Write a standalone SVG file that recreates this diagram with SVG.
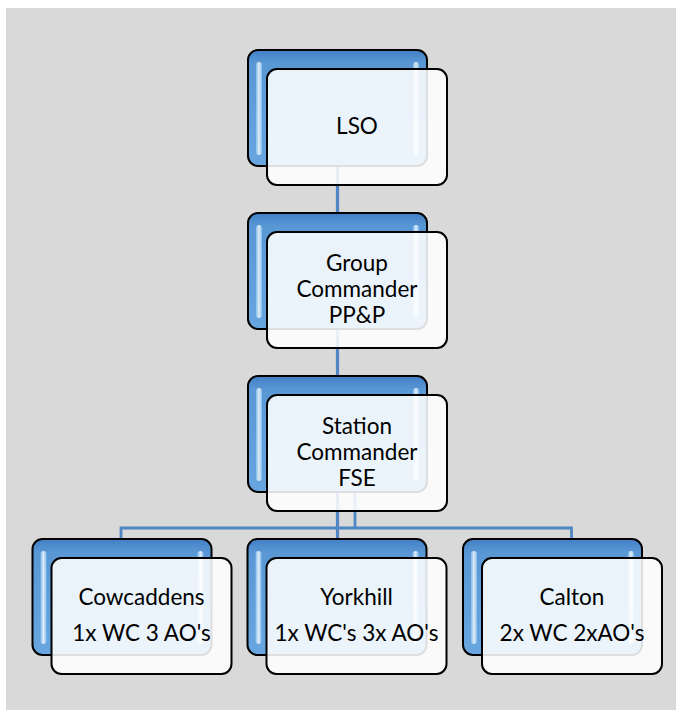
<svg xmlns="http://www.w3.org/2000/svg" width="676" height="710" viewBox="0 0 676 710">
<defs>
<linearGradient id="blueG" x1="0" y1="0" x2="0" y2="1">
<stop offset="0" stop-color="#4280c6"/>
<stop offset="0.12" stop-color="#5a98d5"/>
<stop offset="1" stop-color="#68a6e0"/>
</linearGradient>
<linearGradient id="gloss" x1="0" y1="0" x2="1" y2="0">
<stop offset="0" stop-color="#8cc4f0"/>
<stop offset="0.5" stop-color="#ffffff"/>
<stop offset="1" stop-color="#8cc4f0"/>
</linearGradient>
<style>
.bg{fill:#d9d9d9}
.back{fill:url(#blueG);stroke:#000;stroke-width:2}
.gl{fill:url(#gloss);opacity:0.8}
.front{fill:#ffffff;fill-opacity:0.87;stroke:#000;stroke-width:2}
.conn{stroke:#4f86c6;stroke-width:3.2;fill:none}
.thin{stroke:#4f86c6;stroke-width:2.8;fill:none}
text{font-family:Lato,"Liberation Sans",sans-serif;font-size:22.5px;fill:#000;text-anchor:middle}
</style>
</defs>
<rect class="bg" x="6" y="8" width="670" height="702"/>
<g id="connectors">
<line class="conn" x1="337.5" y1="160" x2="337.5" y2="214"/>
<line class="conn" x1="337.5" y1="323" x2="337.5" y2="377"/>
<line class="conn" x1="337.5" y1="486" x2="337.5" y2="540"/>
<line class="thin" x1="355" y1="492" x2="355" y2="528"/>
<polyline class="thin" points="121,540 121,528 571.5,528 571.5,540"/>
</g>
<g id="node-lso">
<rect class="back" x="248" y="50" width="179" height="116" rx="10"/>
<rect class="gl" x="256" y="62" width="6" height="93" rx="3"/>
<rect class="gl" x="413" y="62" width="6" height="93" rx="3"/>
<rect class="front" x="267" y="69" width="180" height="116" rx="10"/>
<text x="357" y="134">LSO</text>
</g>
<g id="node-group">
<rect class="back" x="248" y="213" width="179" height="116" rx="10"/>
<rect class="gl" x="256" y="225" width="6" height="93" rx="3"/>
<rect class="gl" x="413" y="225" width="6" height="93" rx="3"/>
<rect class="front" x="267" y="232" width="180" height="116" rx="10"/>
<text x="357" y="271">Group</text>
<text x="357" y="297">Commander</text>
<text x="357" y="322.5">PP&amp;P</text>
</g>
<g id="node-station">
<rect class="back" x="248" y="376" width="179" height="116" rx="10"/>
<rect class="gl" x="256" y="388" width="6" height="93" rx="3"/>
<rect class="gl" x="413" y="388" width="6" height="93" rx="3"/>
<rect class="front" x="267" y="395" width="180" height="116" rx="10"/>
<text x="357" y="433.5">Station</text>
<text x="357" y="460">Commander</text>
<text x="357" y="486">FSE</text>
</g>
<g id="node-cowcaddens">
<rect class="back" x="32.5" y="539" width="179" height="116" rx="10"/>
<rect class="gl" x="40.5" y="551" width="6" height="93" rx="3"/>
<rect class="gl" x="197.5" y="551" width="6" height="93" rx="3"/>
<rect class="front" x="51.5" y="558" width="180" height="116" rx="10"/>
<text x="141.5" y="605">Cowcaddens</text>
<text x="141.5" y="640.5">1x WC 3 AO's</text>
</g>
<g id="node-yorkhill">
<rect class="back" x="247.5" y="539" width="179" height="116" rx="10"/>
<rect class="gl" x="255.5" y="551" width="6" height="93" rx="3"/>
<rect class="gl" x="412.5" y="551" width="6" height="93" rx="3"/>
<rect class="front" x="266.5" y="558" width="180" height="116" rx="10"/>
<text x="356.5" y="605">Yorkhill</text>
<text x="356.5" y="640.5">1x WC's 3x AO's</text>
</g>
<g id="node-calton">
<rect class="back" x="463" y="539" width="179" height="116" rx="10"/>
<rect class="gl" x="471" y="551" width="6" height="93" rx="3"/>
<rect class="gl" x="628" y="551" width="6" height="93" rx="3"/>
<rect class="front" x="482" y="558" width="180" height="116" rx="10"/>
<text x="572" y="605">Calton</text>
<text x="572" y="640.5">2x WC 2xAO's</text>
</g>
</svg>
